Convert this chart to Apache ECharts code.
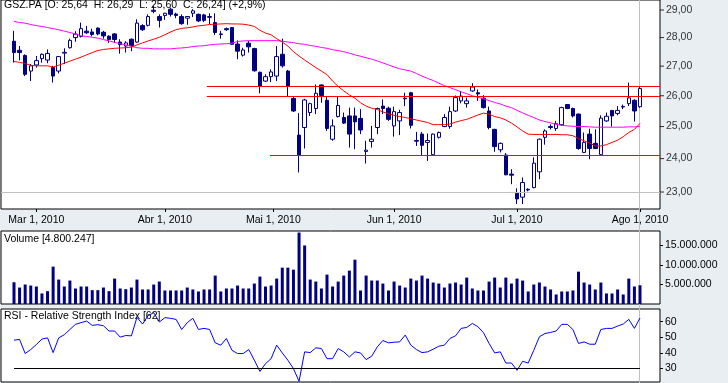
<!DOCTYPE html>
<html><head><meta charset="utf-8">
<script src="https://cdn.jsdelivr.net/npm/echarts@6/dist/echarts.min.js"></script>
<style>html,body{margin:0;padding:0;background:#e9eef2;}#c{width:728px;height:383px;}</style>
</head><body><div id="c"></div>
<script>
const dates = [
'2010-02-23','2010-02-24','2010-02-25','2010-02-26',
'2010-03-01','2010-03-02','2010-03-03','2010-03-04','2010-03-05','2010-03-08','2010-03-09','2010-03-10','2010-03-11','2010-03-12',
'2010-03-15','2010-03-16','2010-03-17','2010-03-18','2010-03-19','2010-03-22','2010-03-23','2010-03-24','2010-03-25','2010-03-26',
'2010-03-29','2010-03-30','2010-03-31',
'2010-04-01','2010-04-06','2010-04-07','2010-04-08','2010-04-09','2010-04-12','2010-04-13','2010-04-14','2010-04-15','2010-04-16',
'2010-04-19','2010-04-20','2010-04-21','2010-04-22','2010-04-23','2010-04-26','2010-04-27','2010-04-28','2010-04-29','2010-04-30',
'2010-05-03','2010-05-04','2010-05-05','2010-05-06','2010-05-07','2010-05-10','2010-05-11','2010-05-12','2010-05-13','2010-05-14',
'2010-05-17','2010-05-18','2010-05-19','2010-05-20','2010-05-21','2010-05-24','2010-05-25','2010-05-26','2010-05-27','2010-05-28','2010-05-31',
'2010-06-01','2010-06-02','2010-06-03','2010-06-04','2010-06-07','2010-06-08','2010-06-09','2010-06-10','2010-06-11',
'2010-06-14','2010-06-15','2010-06-16','2010-06-17','2010-06-18','2010-06-21','2010-06-22','2010-06-23','2010-06-24','2010-06-25',
'2010-06-28','2010-06-29','2010-06-30',
'2010-07-01','2010-07-02','2010-07-05','2010-07-06','2010-07-07','2010-07-08','2010-07-09','2010-07-12','2010-07-13','2010-07-14',
'2010-07-15','2010-07-16','2010-07-19','2010-07-20','2010-07-21','2010-07-22','2010-07-23','2010-07-26','2010-07-27','2010-07-28',
'2010-07-29','2010-07-30',
'2010-08-02'];

const open = [
27.87,27.55,27.37,26.83,27.04,27.26,27.21,26.95,26.83,27.45,
27.64,28.00,28.04,28.23,28.20,28.34,28.19,28.05,28.13,27.84,
27.70,27.94,27.84,28.43,28.44,28.99,28.76,28.80,29.03,28.85,
28.76,28.70,28.88,28.84,28.82,28.73,28.54,28.11,28.32,28.36,
27.77,27.38,27.80,27.61,26.79,26.49,26.64,26.66,27.41,26.83,
25.91,24.73,24.97,25.45,25.58,26.36,25.85,24.60,25.32,25.29,
25.34,25.34,25.26,24.22,24.53,24.97,25.66,25.59,25.02,25.18,
25.92,26.10,24.56,24.76,24.50,24.12,24.66,25.00,25.00,25.50,
25.83,25.74,26.16,26.10,25.92,25.50,24.91,24.27,24.11,23.53,
22.96,22.85,23.06,23.13,23.60,24.66,25.00,24.94,25.06,25.71,
25.58,25.40,24.19,24.76,24.47,24.12,25.18,25.52,25.42,25.63,
25.74,25.85,25.64];
const close = [
27.47,27.47,26.72,27.01,27.19,27.41,27.44,26.66,27.33,27.48,
27.90,28.12,28.32,28.17,28.11,28.13,28.06,27.93,27.93,27.75,
27.81,27.72,28.52,28.28,28.76,28.95,28.62,28.88,28.84,28.80,
28.50,28.76,28.97,28.60,28.62,28.76,28.18,28.13,28.28,27.76,
27.52,27.56,27.67,26.84,26.31,26.64,26.80,27.33,27.01,26.31,
25.50,24.11,25.86,25.74,26.08,26.01,24.94,25.02,25.68,25.11,
24.76,25.15,24.89,24.26,24.60,25.58,25.58,25.23,25.48,25.45,
25.90,25.04,24.54,24.41,24.56,24.76,24.81,25.29,25.48,25.94,
25.99,25.83,26.29,26.06,25.61,24.97,24.37,24.47,23.51,23.50,
22.80,23.28,23.08,23.86,24.60,24.86,24.97,25.09,25.61,25.58,
25.34,24.31,24.50,24.31,24.31,25.27,25.33,25.34,25.52,25.65,
25.93,25.50,26.24];
const low = [
27.12,27.20,26.66,26.49,26.95,27.12,27.10,26.44,26.75,27.07,
27.61,27.85,28.00,28.13,28.04,28.08,27.96,27.81,27.81,27.43,
27.47,27.52,27.82,28.24,28.40,28.88,28.36,28.64,28.76,28.70,
28.46,28.46,28.74,28.56,28.56,28.48,28.09,27.96,28.24,27.74,
27.24,27.33,27.47,26.81,26.08,26.46,26.46,26.49,26.95,25.99,
25.47,23.58,24.31,25.34,25.40,25.77,24.86,24.55,25.29,25.08,
24.34,24.29,24.76,23.85,24.34,24.76,25.40,25.18,24.68,24.73,
25.66,24.94,24.39,24.11,23.93,24.11,24.62,24.98,24.93,25.47,
25.75,25.61,26.13,25.83,25.58,24.91,24.21,24.19,23.50,23.23,
22.65,22.65,23.02,23.11,23.38,24.43,24.91,24.86,25.02,25.56,
25.29,24.27,24.17,23.98,24.29,24.11,25.15,25.00,25.36,25.56,
25.66,25.16,25.60];
const high = [
28.24,27.70,27.41,27.07,27.35,27.44,27.58,27.01,27.35,27.62,
27.96,28.23,28.54,28.42,28.32,28.36,28.24,28.08,28.16,27.94,
27.87,27.97,28.66,28.48,28.84,29.15,28.84,28.90,29.09,28.90,
28.84,28.78,29.03,28.87,28.86,28.88,28.88,28.24,28.36,28.38,
27.90,27.64,27.88,27.64,26.81,26.72,26.89,27.70,27.96,26.87,
25.99,25.43,25.90,25.77,26.38,26.38,25.99,25.23,25.99,25.45,
25.61,25.61,25.56,24.55,25.02,25.61,25.88,25.64,25.64,25.54,
26.10,26.13,24.83,24.83,24.78,24.78,24.84,25.40,25.64,26.01,
26.16,25.94,26.42,26.21,26.02,25.64,24.93,24.50,24.17,23.68,
23.11,23.43,23.11,24.04,24.62,24.91,25.07,25.18,25.64,25.72,
25.61,25.42,24.81,24.93,24.91,25.36,25.45,25.52,25.66,25.71,
26.44,25.88,26.29];

const maShort = [
27.16,27.13,27.09,27.03,27.01,27.01,27.01,26.97,27.03,27.10,
27.17,27.24,27.31,27.39,27.47,27.54,27.58,27.60,27.62,27.63,
27.64,27.66,27.74,27.81,27.88,27.94,28.01,28.10,28.20,28.28,
28.33,28.35,28.38,28.42,28.44,28.47,28.48,28.49,28.50,28.49,
28.49,28.48,28.45,28.40,28.26,28.16,28.10,27.96,27.84,27.70,
27.50,27.35,27.21,27.08,26.95,26.83,26.71,26.49,26.31,26.16,
26.03,25.92,25.77,25.66,25.59,25.55,25.47,25.41,25.36,25.32,
25.29,25.25,25.21,25.17,25.13,25.06,25.06,25.06,25.08,25.14,
25.19,25.23,25.30,25.37,25.43,25.40,25.32,25.28,25.21,25.11,
24.99,24.86,24.76,24.75,24.75,24.75,24.75,24.75,24.74,24.74,
24.71,24.62,24.55,24.48,24.39,24.39,24.43,24.50,24.57,24.68,
24.81,24.91,25.10];
const maLong = [
28.58,28.54,28.52,28.47,28.43,28.40,28.36,28.32,28.28,28.23,
28.18,28.13,28.06,28.04,28.01,27.98,27.93,27.88,27.83,27.78,
27.74,27.69,27.64,27.62,27.62,27.60,27.60,27.60,27.60,27.62,
27.63,27.65,27.68,27.70,27.71,27.74,27.76,27.77,27.78,27.80,
27.86,27.88,27.89,27.89,27.89,27.89,27.89,27.89,27.87,27.84,
27.82,27.78,27.76,27.72,27.69,27.65,27.62,27.57,27.54,27.50,
27.45,27.39,27.34,27.29,27.24,27.18,27.11,27.04,26.97,26.91,
26.87,26.83,26.75,26.66,26.58,26.51,26.42,26.34,26.27,26.20,
26.13,26.07,26.00,25.95,25.90,25.84,25.78,25.73,25.66,25.61,
25.52,25.44,25.36,25.29,25.21,25.16,25.12,25.07,25.04,25.02,
25.01,25.00,25.00,24.99,24.98,24.98,24.98,24.98,24.98,24.98,
24.99,24.99,25.00];

const volume = [
5570000,4220000,4990000,4730000,4480000,2700000,3290000,9570000,6260000,4480000,
6010000,3970000,4480000,4480000,3550000,3550000,4220000,3290000,6510000,3970000,
3800000,4220000,6260000,3720000,3720000,4990000,5750000,3460000,3460000,3460000,
3460000,4220000,3720000,3210000,3720000,3720000,7280000,3210000,3970000,3970000,
4730000,3970000,3970000,5240000,7020000,4480000,4730000,6510000,9310000,9310000,
8800000,18300000,15000000,6260000,5750000,3970000,7530000,4480000,5750000,7280000,
8550000,11350000,3460000,7280000,6010000,6010000,5240000,3460000,5750000,4730000,
4220000,6510000,6010000,7280000,6510000,5500000,5240000,4220000,5240000,5500000,
4990000,6770000,3970000,3460000,3460000,5750000,6770000,4220000,6770000,5240000,
6510000,6010000,3210000,4990000,5500000,4480000,3720000,2440000,3210000,3210000,
3460000,8290000,5500000,4990000,3720000,5500000,2700000,2700000,3720000,2440000,
6510000,4480000,4800247];

const rsi = [
48.1,48.6,39.5,42.1,45.3,48.8,49.6,40.1,49.6,51.6,
55.0,58.3,59.4,60.4,57.6,58.1,57.4,54.0,54.0,50.1,
51.1,50.9,62.8,58.5,63.9,65.8,59.8,62.6,62.2,61.5,
55.0,59.4,62.2,55.0,55.7,55.0,46.4,44.9,49.2,41.6,
39.5,39.5,42.1,35.2,28.0,33.0,36.2,44.9,39.9,35.2,
29.8,21.6,40.6,40.1,43.2,42.7,36.2,36.2,42.7,40.6,
37.3,40.6,39.9,35.6,37.8,43.8,47.9,46.4,46.8,47.0,
51.4,44.9,42.1,40.1,40.6,42.3,44.2,44.9,49.2,50.9,
55.7,56.3,58.9,56.8,52.9,46.0,39.9,40.6,33.4,33.4,
28.7,34.5,33.4,41.6,50.3,52.4,53.1,54.0,58.3,58.3,
55.0,46.0,47.0,45.5,45.5,55.0,55.7,55.7,57.2,58.5,
61.5,55.7,62.4];

const levels = [26.30, 26.00, 24.09];
const levelStart = [34.5, 34.5, 45.8];
const gridLevel = 23;
const rsiLevel = 30;
const priceTicks = [23, 24, 25, 26, 27, 28, 29];
const volumeTicks = [5000000, 10000000, 15000000];
const rsiTicks = [30, 40, 50, 60];
const monthTicks = [4, 27, 46.4, 68, 90, 112];
const monthLabels = ['Mar 1, 2010', 'Abr 1, 2010', 'Mai 1, 2010', 'Jun 1, 2010', 'Jul 1, 2010', 'Ago 1, 2010'];
const symbolName = 'GSZ.PA';

const last = dates.length - 1;
const comma = v => v.toFixed(2).replace('.', ',');
const dots = v => String(Math.round(v)).replace(/\B(?=(\d{3})+(?!\d))/g, '.');
const pct = (close[last] / close[last - 1] - 1) * 100;
const titleMain = symbolName + ' [O: ' + comma(open[last]) + '  H: ' + comma(high[last]) +
  '  L: ' + comma(low[last]) + '  C: ' + comma(close[last]) + '] (' + (pct >= 0 ? '+' : '') +
  pct.toFixed(1).replace('.', ',') + '%)';
const titleVol = 'Volume [' + dots(volume[last]) + ']';
const titleRsi = 'RSI - Relative Strength Index [' + Math.round(rsi[last]) + ']';

const FONT = '"Liberation Sans", Arial, sans-serif';
const txt = { fontFamily: FONT, fontSize: 10.5, color: '#000' };
const X_MIN = -2.326, X_MAX = 115.58;
const NAVY = '#000080';

const chart = echarts.init(document.getElementById('c'), null, { renderer: 'canvas' });

const gridBase = { show: true, backgroundColor: '#fff', borderColor: '#000', borderWidth: 1, outerBoundsMode: 'none', containLabel: false };
const noLine = { show: false, onZero: false };
const hiddenX = (gi) => ({ type: 'value', gridIndex: gi, min: X_MIN, max: X_MAX, show: false, axisLine: noLine });
const pick = (arr, v) => { let k = 0; arr.forEach((a, j) => { if (Math.abs(a - v) < Math.abs(arr[k] - v)) k = j; }); return k; };

chart.setOption({
  animation: false,
  backgroundColor: '#e9eef2',
  title: [
    { text: titleMain, left: 4, top: 0, padding: 0, textStyle: Object.assign({ fontWeight: 'normal' }, txt) },
    { text: titleVol, left: 4, top: 234, padding: 0, textStyle: Object.assign({ fontWeight: 'normal' }, txt) },
    { text: titleRsi, left: 4, top: 310.5, padding: 0, textStyle: Object.assign({ fontWeight: 'normal' }, txt) }
  ],
  grid: [
    Object.assign({ left: 1, top: 0, width: 659, height: 209 }, gridBase),
    Object.assign({ left: 1, top: 231, width: 659, height: 73 }, gridBase),
    Object.assign({ left: 1, top: 309, width: 659, height: 73 }, gridBase)
  ],
  xAxis: [
    { type: 'value', gridIndex: 0, min: X_MIN, max: X_MAX,
      axisLine: noLine, splitLine: { show: false },
      axisTick: { show: true, customValues: monthTicks, length: 3, lineStyle: { color: '#000' } },
      axisLabel: Object.assign({ show: true, customValues: monthTicks, margin: 6,
        formatter: v => monthLabels[pick(monthTicks, v)] }, txt) },
    hiddenX(1),
    hiddenX(2)
  ],
  yAxis: [
    { type: 'log', logBase: 10, gridIndex: 0, min: 22.508, max: 29.372, position: 'right',
      axisLine: noLine, axisTick: { show: false }, axisLabel: { show: false }, splitLine: { show: false } },
    { type: 'value', gridIndex: 1, min: 0, max: 18700000, position: 'right',
      axisLine: noLine, splitLine: { show: false },
      axisTick: { show: true, customValues: volumeTicks, length: 3, lineStyle: { color: '#000' } },
      axisLabel: Object.assign({ customValues: volumeTicks, margin: 5, formatter: v => dots(v) }, txt) },
    { type: 'value', gridIndex: 2, min: 21.18, max: 68.18, position: 'right',
      axisLine: noLine, splitLine: { show: false },
      axisTick: { show: true, customValues: rsiTicks, length: 3, lineStyle: { color: '#000' } },
      axisLabel: Object.assign({ customValues: rsiTicks, margin: 5, formatter: v => String(v) }, txt) }
  ],
  series: [
    { type: 'line', name: 'MA long', xAxisIndex: 0, yAxisIndex: 0, silent: true,
      data: maLong.map((v, i) => [i, v]), showSymbol: false,
      lineStyle: { color: '#ff00ff', width: 1 },
      markLine: { silent: true, symbol: 'none', label: { show: false },
        lineStyle: { color: '#c0c0c0', type: 'solid', width: 1 },
        data: [{ yAxis: gridLevel }] } },
    { type: 'line', name: 'MA short', xAxisIndex: 0, yAxisIndex: 0, silent: true,
      data: maShort.map((v, i) => [i, v]), showSymbol: false,
      lineStyle: { color: '#ff0000', width: 1 },
      markLine: { silent: true, symbol: 'none', label: { show: false },
        lineStyle: { color: '#ff0000', type: 'solid', width: 1 },
        data: levels.map((v, k) => [{ coord: [levelStart[k], v] }, { coord: [X_MAX, v] }]) } },
    { type: 'candlestick', name: symbolName, xAxisIndex: 0, yAxisIndex: 0, silent: true,
      data: dates.map((d, i) => [i, open[i], close[i], low[i], high[i]]),
      encode: { x: 0, y: [1, 2, 3, 4] },
      barWidth: 4,
      itemStyle: { color: '#ffffff', color0: NAVY, borderColor: NAVY, borderColor0: NAVY, borderColorDoji: NAVY, borderWidth: 1 } },
    { type: 'scatter', name: 'price labels', xAxisIndex: 0, yAxisIndex: 0, silent: true, clip: false,
      data: priceTicks.map(p => [X_MAX, p]),
      symbol: 'rect', symbolSize: [4, 1], symbolOffset: [2, 0],
      itemStyle: { color: '#000' },
      label: Object.assign({ show: true, position: 'right', distance: 2, formatter: p => comma(p.value[1]) }, txt) },
    { type: 'bar', name: 'Volume', xAxisIndex: 1, yAxisIndex: 1, silent: true,
      data: volume.map((v, i) => [i, v]), barWidth: 3,
      itemStyle: { color: NAVY } },
    { type: 'line', name: 'RSI', xAxisIndex: 2, yAxisIndex: 2, silent: true,
      data: rsi.map((v, i) => [i, v]), showSymbol: false,
      lineStyle: { color: '#0000ff', width: 1 },
      markLine: { silent: true, symbol: 'none', label: { show: false },
        lineStyle: { color: '#000', type: 'solid', width: 1 },
        data: [[{ coord: [0, rsiLevel] }, { coord: [last, rsiLevel] }]] } }
  ]
});

const px = chart.convertToPixel({ xAxisIndex: 0 }, last);
const lx = Math.floor(px) + 0.5;
chart.setOption({
  graphic: { elements: [{ type: 'line', z: 1, silent: true,
    shape: { x1: lx, y1: 0, x2: lx, y2: 383 },
    style: { stroke: '#c0c0c0', lineWidth: 1 } }] }
});
</script>
</body></html>
